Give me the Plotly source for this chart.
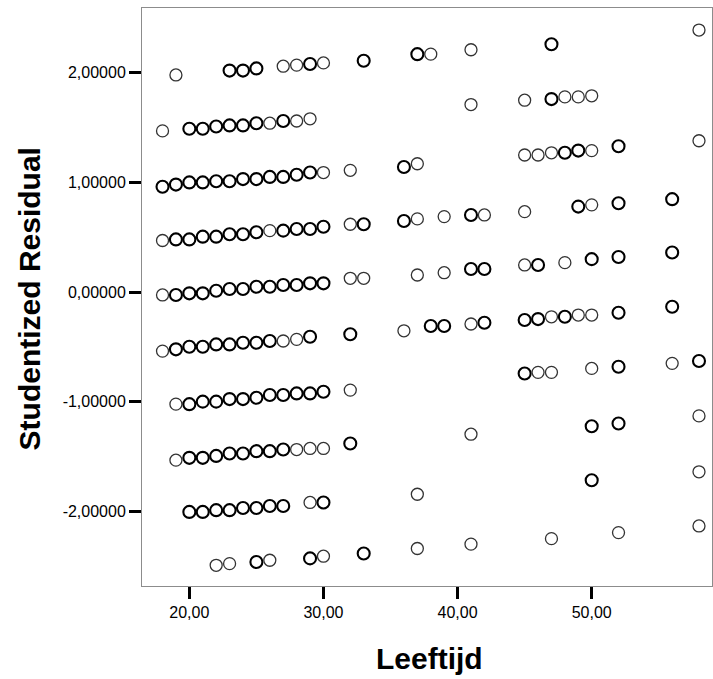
import plotly.graph_objects as go

# ---- data: (age, studentized residual, number of overlapping cases) per band ----
age_a = [19, 23, 24, 25, 27, 28, 29, 30, 33, 37, 38, 41, 47, 58]
res_a = [1.98, 2.02, 2.02, 2.04, 2.06, 2.07, 2.08, 2.09, 2.11, 2.17, 2.17, 2.21, 2.26, 2.39]
n_a = [1, 2, 2, 2, 1, 1, 2, 1, 2, 2, 1, 1, 2, 1]

age_b = [18, 20, 21, 22, 23, 24, 25, 26, 27, 28, 29, 41, 45, 47, 48, 49, 50]
res_b = [1.47, 1.49, 1.49, 1.51, 1.52, 1.52, 1.54, 1.54, 1.56, 1.56, 1.58, 1.71, 1.75, 1.76, 1.78, 1.78, 1.79]
n_b = [1, 2, 2, 2, 2, 2, 2, 1, 2, 1, 1, 1, 1, 2, 1, 1, 1]

age_c = [18, 19, 20, 21, 22, 23, 24, 25, 26, 27, 28, 29, 30, 32, 36, 37, 45, 46, 47, 48, 49, 50, 52, 58]
res_c = [0.96, 0.98, 1.0, 1.0, 1.01, 1.01, 1.03, 1.03, 1.05, 1.05, 1.07, 1.09, 1.09, 1.11, 1.14, 1.17,
         1.25, 1.25, 1.27, 1.27, 1.29, 1.29, 1.33, 1.38]
n_c = [2, 2, 2, 2, 2, 2, 2, 2, 2, 2, 2, 2, 1, 1, 2, 1, 1, 1, 1, 2, 2, 1, 2, 1]

age_d = [18, 19, 20, 21, 22, 23, 24, 25, 26, 27, 28, 29, 30, 32, 33, 36, 37, 39, 41, 42, 45, 49, 50, 52, 56]
res_d = [0.47, 0.48, 0.48, 0.505, 0.505, 0.527, 0.527, 0.545, 0.56, 0.56, 0.575, 0.575, 0.596, 0.618, 0.618,
         0.648, 0.667, 0.688, 0.703, 0.703, 0.733, 0.779, 0.795, 0.81, 0.847]
n_d = [1, 2, 2, 2, 2, 2, 2, 2, 1, 2, 2, 2, 2, 1, 2, 2, 1, 1, 2, 1, 1, 2, 1, 2, 2]

age_e = [18, 19, 20, 21, 22, 23, 24, 25, 26, 27, 28, 29, 30, 32, 33, 37, 39, 41, 42, 45, 46, 48, 50, 52, 56]
res_e = [-0.027, -0.027, -0.012, -0.012, 0.012, 0.027, 0.027, 0.048, 0.048, 0.064, 0.064, 0.079, 0.079,
         0.125, 0.125, 0.155, 0.176, 0.21, 0.21, 0.247, 0.247, 0.268, 0.30, 0.32, 0.36]
n_e = [1, 2, 2, 2, 2, 2, 2, 2, 2, 2, 2, 2, 2, 1, 1, 1, 1, 2, 2, 1, 2, 1, 2, 2, 2]

age_f = [18, 19, 20, 21, 22, 23, 24, 25, 26, 27, 28, 29, 32, 36, 38, 39, 41, 42, 45, 46, 47, 48, 49, 50, 52, 56]
res_f = [-0.539, -0.523, -0.50, -0.50, -0.478, -0.478, -0.463, -0.463, -0.447, -0.447, -0.432, -0.408,
         -0.386, -0.354, -0.31, -0.31, -0.292, -0.28, -0.256, -0.247, -0.226, -0.226, -0.21, -0.21, -0.189, -0.134]
n_f = [1, 2, 2, 2, 2, 2, 2, 2, 2, 1, 1, 2, 2, 1, 2, 2, 1, 2, 2, 2, 1, 2, 1, 1, 2, 2]

age_g = [19, 20, 21, 22, 23, 24, 25, 26, 27, 28, 29, 30, 32, 45, 46, 47, 50, 52, 56, 58]
res_g = [-1.023, -1.023, -1.0, -1.0, -0.977, -0.977, -0.965, -0.94, -0.94, -0.925, -0.925, -0.91, -0.895,
         -0.743, -0.733, -0.733, -0.697, -0.682, -0.651, -0.63]
n_g = [1, 2, 2, 2, 2, 2, 2, 2, 2, 2, 2, 2, 1, 2, 1, 1, 1, 2, 1, 2]

age_h = [19, 20, 21, 22, 23, 24, 25, 26, 27, 28, 29, 30, 32, 41, 50, 52, 58]
res_h = [-1.534, -1.513, -1.513, -1.495, -1.473, -1.473, -1.452, -1.452, -1.437, -1.437, -1.427, -1.427,
         -1.382, -1.297, -1.224, -1.20, -1.13]
n_h = [1, 2, 2, 2, 2, 2, 2, 2, 2, 1, 1, 1, 2, 1, 2, 2, 1]

age_i = [20, 21, 22, 23, 24, 25, 26, 27, 29, 30, 37, 50, 58]
res_i = [-2.006, -2.006, -1.99, -1.99, -1.97, -1.97, -1.952, -1.952, -1.92, -1.92, -1.845, -1.717, -1.64]
n_i = [2, 2, 2, 2, 2, 2, 2, 2, 1, 2, 1, 2, 1]

age_j = [22, 23, 25, 26, 29, 30, 33, 37, 41, 47, 52, 58]
res_j = [-2.493, -2.478, -2.463, -2.447, -2.43, -2.41, -2.386, -2.34, -2.30, -2.25, -2.195, -2.134]
n_j = [1, 1, 2, 1, 2, 1, 2, 1, 1, 1, 1, 1]

x_ticks = [20, 30, 40, 50]
x_ticktext = ["20,00", "30,00", "40,00", "50,00"]
y_ticks = [-2, -1, 0, 1, 2]
y_ticktext = ["-2,00000", "-1,00000", "0,00000", "1,00000", "2,00000"]

ages = age_a + age_b + age_c + age_d + age_e + age_f + age_g + age_h + age_i + age_j
res = res_a + res_b + res_c + res_d + res_e + res_f + res_g + res_h + res_i + res_j
counts = n_a + n_b + n_c + n_d + n_e + n_f + n_g + n_h + n_i + n_j

line_w = [1.3 if c == 1 else 2.1 for c in counts]
line_c = ["#333333" if c == 1 else "#000000" for c in counts]

fig = go.Figure()
fig.add_trace(go.Scatter(
    x=ages, y=res, mode="markers",
    marker=dict(symbol="circle", size=12, color="rgba(255,255,255,0)",
                line=dict(width=line_w, color=line_c)),
    showlegend=False, hoverinfo="x+y",
))

font_family = "Liberation Sans, Arial, sans-serif"
fig.update_layout(
    width=713, height=679,
    margin=dict(l=142, r=1, t=8, b=93),
    paper_bgcolor="white", plot_bgcolor="white",
    font=dict(family=font_family, color="black"),
    xaxis=dict(
        range=[16.47, 58.97], tickvals=x_ticks, ticktext=x_ticktext,
        ticks="outside", ticklen=12, tickwidth=3, tickcolor="black",
        showline=True, linecolor="#8c8c8c", linewidth=1, mirror=True,
        showgrid=False, zeroline=False,
        tickfont=dict(size=16, family=font_family, color="black"),
    ),
    yaxis=dict(
        range=[-2.682, 2.591], tickvals=y_ticks, ticktext=y_ticktext,
        ticks="outside", ticklen=12, tickwidth=3, tickcolor="black",
        showline=True, linecolor="#8c8c8c", linewidth=1, mirror=True,
        showgrid=False, zeroline=False,
        tickfont=dict(size=16, family=font_family, color="black"),
    ),
    annotations=[
        dict(text="<b>Leeftijd</b>", xref="paper", yref="paper", x=0.505, y=-0.126,
             xanchor="center", yanchor="middle", showarrow=False,
             font=dict(size=30, family=font_family, color="black")),
        dict(text="<b>Studentized Residual</b>", xref="paper", yref="paper", x=-0.197, y=0.497,
             xanchor="center", yanchor="middle", showarrow=False, textangle=-90,
             font=dict(size=30, family=font_family, color="black")),
    ],
)

fig.write_html("out.html")
